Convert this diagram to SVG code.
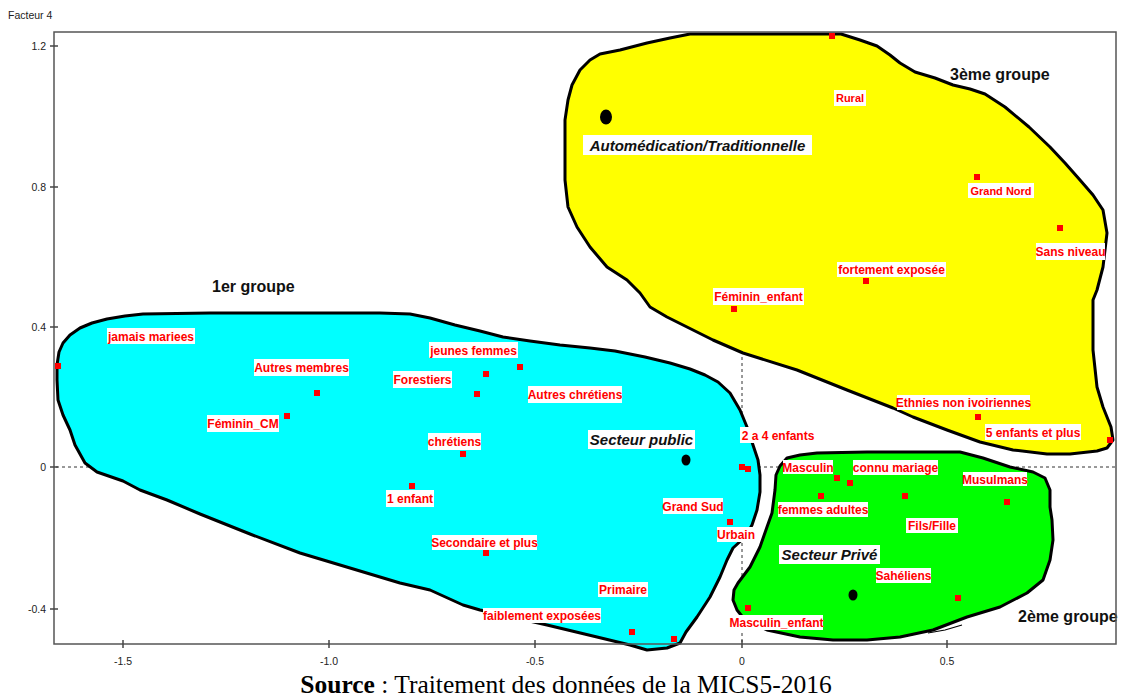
<svg xmlns="http://www.w3.org/2000/svg" width="1125" height="698" viewBox="0 0 1125 698">
<style>
.region{stroke:#000;stroke-width:3;stroke-linejoin:round}
.lb rect{fill:#fff}
.lb text{font-family:"Liberation Sans",Arial,sans-serif;font-weight:bold;font-size:12px;fill:#ff0000;text-anchor:middle}
.lb.sm text{font-size:11px}
.lb rect.pt{fill:#ff0000}
.bk rect{fill:#fff}
.bk text{font-family:"Liberation Sans",Arial,sans-serif;font-weight:bold;font-style:italic;font-size:15px;fill:#111;text-anchor:middle}
.grp{font-family:"Liberation Sans",Arial,sans-serif;font-weight:bold;font-size:16px;fill:#111}
.tick{stroke:#444;stroke-width:1.5}
.tl{font-family:"Liberation Sans",Arial,sans-serif;font-size:10.5px;fill:#222}
.dash{stroke:#333;stroke-width:1;stroke-dasharray:3,3;fill:none}
</style>
<rect x="0" y="0" width="1125" height="698" fill="#fff"/>
<g id="axes-dashed">
<line class="dash" x1="56" y1="467" x2="1115" y2="467"/>
<line class="dash" x1="742" y1="33" x2="742" y2="643"/>
</g>
<g id="group3">
<path class="region" fill="#ffff00" d="M565,180 L565,150 L565,120 L568,100 L572,85 L580,70 L590,60 L600,54 L620,50 L647,43 L670,38 L690,34 L760,34 L841,34 L860,40 L877,46 L890,55 L900,63 L915,72 L935,78 L953,85 L970,89 L985,94 L1005,107 L1029,127 L1050,147 L1065,163 L1080,180 L1093,195 L1103,210 L1107,233 L1103,267 L1097,290 L1093,300 L1093,350 L1097,387 L1103,407 L1111,427 L1113,440 L1107,448 L1097,451 L1070,454 L1047,454 L1013,450 L980,442 L947,430 L913,417 L893,408 L847,390 L797,370 L743,353 L713,340 L687,327 L667,317 L650,307 L640,293 L627,280 L607,267 L590,247 L577,227 L568,207 Z"/>
<text class="grp" x="950" y="80">3ème groupe</text>
</g>
<g id="group1">
<path class="region" fill="#00ffff" d="M57,380 L57,365 L59,352 L63,343 L70,335 L80,328 L92,323 L107,319 L125,316 L143,314 L210,313 L300,313 L380,313 L410,314 L430,318 L455,325 L480,331 L503,337 L530,341 L560,345 L590,348 L615,351 L645,357 L670,363 L690,369 L705,375 L718,382 L730,393 L740,410 L747,427 L753,445 L758,460 L760,475 L760,492 L757,510 L752,525 L745,537 L733,548 L727,560 L720,577 L710,597 L697,617 L686,632 L680,643 L667,648 L647,650 L630,645 L597,637 L547,625 L480,610 L463,605 L430,590 L400,583 L380,577 L300,553 L250,534 L200,514 L167,500 L140,490 L123,481 L97,472 L85,463 L75,445 L70,430 L63,415 L58,400 Z"/>
<text class="grp" x="212" y="292">1er groupe</text>
</g>
<g id="group2">
<path class="region" fill="#00ff00" d="M780,466 L787,458 L800,455 L817,453 L867,452 L960,452 L983,458 L1010,467 L1033,472 L1045,478 L1050,490 L1050,507 L1052,520 L1053,540 L1050,560 L1043,580 L1027,593 L1000,607 L967,617 L933,630 L900,637 L867,640 L833,640 L800,637 L767,630 L745,620 L737,610 L733,600 L734,590 L738,583 L750,567 L760,547 L767,527 L772,513 L775,490 L776,475 Z"/>
<path d="M928,633 L945,630 L962,625" fill="none" stroke="#000" stroke-width="1.2"/>
<text class="grp" x="1018" y="622">2ème groupe</text>
</g>
<g id="frame">
<rect x="54" y="32" width="1062" height="612" fill="none" stroke="#555" stroke-width="1.5"/>
<text class="tl" x="8" y="19" font-size="11">Facteur 4</text>
<g class="tick">
<line x1="50" y1="46" x2="58" y2="46"/>
<line x1="50" y1="187" x2="58" y2="187"/>
<line x1="50" y1="327" x2="58" y2="327"/>
<line x1="50" y1="467" x2="58" y2="467"/>
<line x1="50" y1="609" x2="58" y2="609"/>
<line x1="123" y1="640" x2="123" y2="648"/>
<line x1="329" y1="640" x2="329" y2="648"/>
<line x1="535" y1="640" x2="535" y2="648"/>
<line x1="742" y1="640" x2="742" y2="648"/>
<line x1="947" y1="640" x2="947" y2="648"/>
</g>
<g class="tl" text-anchor="end">
<text x="46" y="50">1.2</text>
<text x="46" y="191">0.8</text>
<text x="46" y="331">0.4</text>
<text x="46" y="471">0</text>
<text x="46" y="613">-0.4</text>
</g>
<g class="tl" text-anchor="middle">
<text x="123" y="665">-1.5</text>
<text x="329" y="665">-1.0</text>
<text x="535" y="665">-0.5</text>
<text x="742" y="665">0</text>
<text x="947" y="665">0.5</text>
</g>
</g>
<g id="n-jamais-mariees" class="lb"><rect class="pt" x="55" y="363" width="6" height="6"/><rect x="107" y="328" width="88" height="16"/><text x="151" y="340.5">jamais mariees</text></g>
<g id="n-autres-membres" class="lb"><rect class="pt" x="314" y="390" width="6" height="6"/><rect x="254" y="359" width="95" height="17"/><text x="301.5" y="372">Autres membres</text></g>
<g id="n-feminin-cm" class="lb"><rect class="pt" x="284" y="413" width="6" height="6"/><rect x="207" y="415" width="72" height="17"/><text x="243" y="428">Féminin_CM</text></g>
<g id="n-jeunes-femmes" class="lb"><rect class="pt" x="483" y="371" width="6" height="6"/><rect x="429" y="342" width="89" height="16"/><text x="473.5" y="354.5">jeunes femmes</text></g>
<g id="n-forestiers" class="lb"><rect class="pt" x="474" y="391" width="6" height="6"/><rect x="393" y="371" width="59" height="17"/><text x="422.5" y="384">Forestiers</text></g>
<g id="n-autres-chretiens" class="lb"><rect class="pt" x="517" y="364" width="6" height="6"/><rect x="528" y="386" width="94" height="17"/><text x="575" y="399">Autres chrétiens</text></g>
<g id="n-chretiens" class="lb"><rect class="pt" x="460" y="451" width="6" height="6"/><rect x="428" y="433" width="53" height="17"/><text x="454.5" y="446">chrétiens</text></g>
<g id="n-1-enfant" class="lb"><rect class="pt" x="409" y="483" width="6" height="6"/><rect x="386" y="490" width="48" height="17"/><text x="410" y="503">1 enfant</text></g>
<g id="n-2-4-enfants" class="lb"><rect class="pt" x="739" y="464" width="6" height="6"/><rect x="740" y="427" width="76" height="16"/><text x="778" y="439.5">2 a 4 enfants</text></g>
<g id="n-grand-sud" class="lb"><rect class="pt" x="745" y="466" width="6" height="6"/><rect x="663" y="498" width="60" height="16"/><text x="693" y="510.5">Grand Sud</text></g>
<g id="n-urbain" class="lb"><rect class="pt" x="727" y="519" width="6" height="6"/><rect x="717" y="527" width="38" height="15"/><text x="736" y="539">Urbain</text></g>
<g id="n-secondaire" class="lb"><rect class="pt" x="483" y="550" width="6" height="6"/><rect x="432" y="535" width="105" height="15"/><text x="484.5" y="547">Secondaire et plus</text></g>
<g id="n-primaire" class="lb"><rect class="pt" x="671" y="636" width="6" height="6"/><rect x="598" y="582" width="50" height="15"/><text x="623" y="594">Primaire</text></g>
<g id="n-faiblement" class="lb"><rect class="pt" x="629" y="629" width="6" height="6"/><rect x="483" y="608" width="118" height="15"/><text x="542" y="620">faiblement exposées</text></g>
<g id="n-masculin-enfant" class="lb"><rect class="pt" x="745" y="605" width="6" height="6"/><rect x="730" y="615" width="93" height="15"/><text x="776.5" y="627">Masculin_enfant</text></g>
<g id="n-masculin" class="lb"><rect class="pt" x="834" y="475" width="6" height="6"/><rect x="783" y="460" width="50" height="14"/><text x="808" y="471.5">Masculin</text></g>
<g id="n-connu-mariage" class="lb"><rect class="pt" x="847" y="480" width="6" height="6"/><rect x="853" y="460" width="85" height="15"/><text x="895.5" y="472">connu mariage</text></g>
<g id="n-femmes-adultes" class="lb"><rect class="pt" x="818" y="493" width="6" height="6"/><rect x="778" y="502" width="90" height="15"/><text x="823" y="514">femmes adultes</text></g>
<g id="n-fils-fille" class="lb"><rect class="pt" x="902" y="493" width="6" height="6"/><rect x="906" y="518" width="52" height="15"/><text x="932" y="530">Fils/Fille</text></g>
<g id="n-musulmans" class="lb"><rect class="pt" x="1004" y="499" width="6" height="6"/><rect x="963" y="472" width="64" height="14"/><text x="995" y="483.5">Musulmans</text></g>
<g id="n-saheliens" class="lb"><rect class="pt" x="955" y="595" width="6" height="6"/><rect x="876" y="568" width="55" height="15"/><text x="903.5" y="580">Sahéliens</text></g>
<g id="n-rural" class="lb sm"><rect class="pt" x="829" y="33" width="6" height="6"/><rect x="834" y="90" width="32" height="16"/><text x="850" y="102">Rural</text></g>
<g id="n-grand-nord" class="lb sm"><rect class="pt" x="974" y="174" width="6" height="6"/><rect x="968" y="183" width="66" height="15"/><text x="1001" y="195">Grand Nord</text></g>
<g id="n-sans-niveau" class="lb"><rect class="pt" x="1057" y="225" width="6" height="6"/><rect x="1036" y="243" width="69" height="17"/><text x="1070.5" y="256">Sans niveau</text></g>
<g id="n-fortement" class="lb"><rect class="pt" x="863" y="278" width="6" height="6"/><rect x="837" y="262" width="109" height="15"/><text x="891.5" y="274">fortement exposée</text></g>
<g id="n-feminin-enfant" class="lb"><rect class="pt" x="731" y="306" width="6" height="6"/><rect x="713" y="288" width="91" height="17"/><text x="758.5" y="301">Féminin_enfant</text></g>
<g id="n-ethnies" class="lb"><rect class="pt" x="975" y="414" width="6" height="6"/><rect x="897" y="395" width="133" height="15"/><text x="963.5" y="407">Ethnies non ivoiriennes</text></g>
<g id="n-5-enfants" class="lb"><rect class="pt" x="1107" y="437" width="6" height="6"/><rect x="985" y="424" width="96" height="16"/><text x="1033" y="436.5">5 enfants et plus</text></g>
<g id="m-auto" class="bk"><ellipse cx="606" cy="117" rx="6" ry="7.5" fill="#000"/><rect x="583" y="135" width="229" height="20"/><text x="697.5" y="151" font-size="15.5">Automédication/Traditionnelle</text></g>
<g id="m-public" class="bk"><ellipse cx="686" cy="460" rx="4.5" ry="5.5" fill="#000"/><rect x="588" y="430" width="107" height="19"/><text x="641.5" y="445">Secteur public</text></g>
<g id="m-prive" class="bk"><ellipse cx="853" cy="595" rx="4.5" ry="5.5" fill="#000"/><rect x="779" y="545" width="101" height="19"/><text x="829.5" y="560">Secteur Privé</text></g>
<text x="566" y="693" text-anchor="middle" font-family="'Liberation Serif','Times New Roman',serif" font-size="25.5" fill="#000"><tspan font-weight="bold">Source</tspan> : Traitement des données de la MICS5-2016</text>
</svg>
